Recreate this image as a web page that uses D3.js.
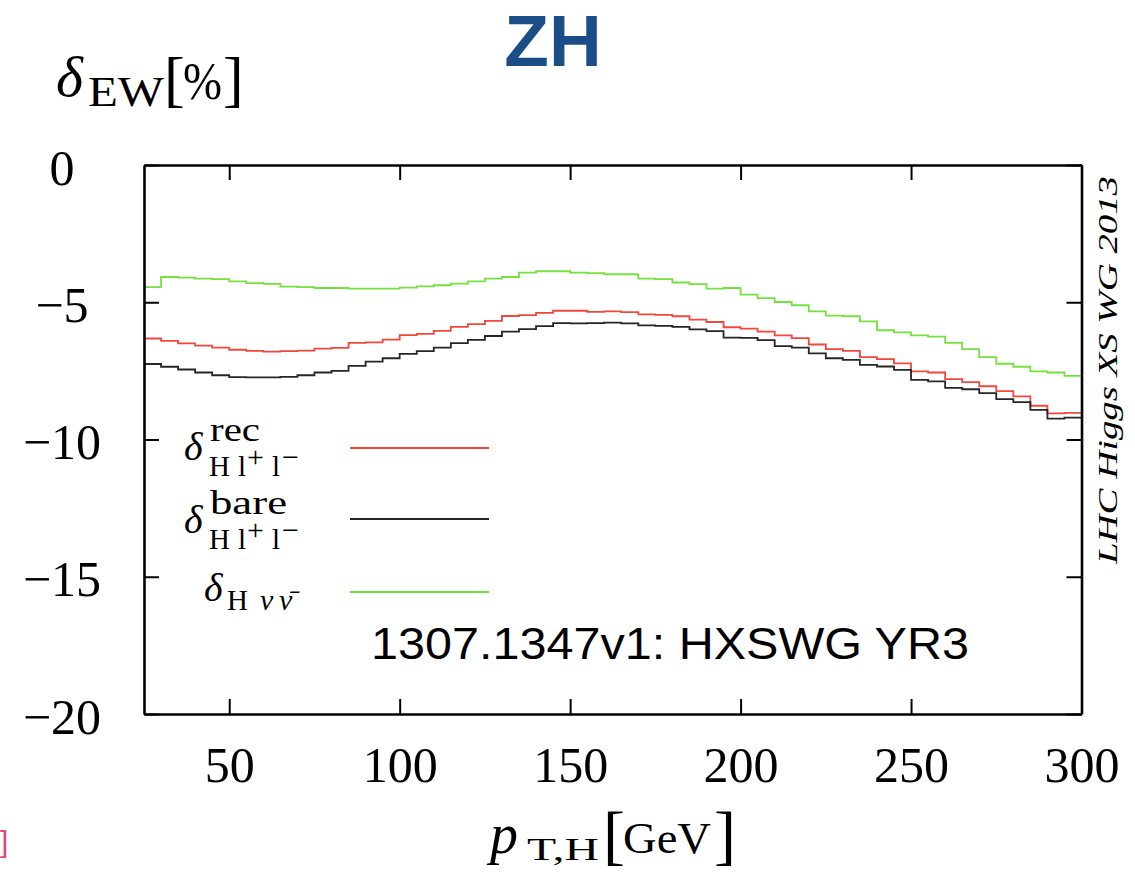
<!DOCTYPE html>
<html>
<head>
<meta charset="utf-8">
<script src="https://cdn.jsdelivr.net/npm/d3@7"></script>
<style>
  body { margin: 0; background: #fff; }
  svg { display: block; }
  text { font-family: "Liberation Serif", "DejaVu Serif", serif; fill: #000; }
</style>
</head>
<body>
<svg id="chart" width="1135" height="873"></svg>
<script>
// Lower edges of the 5 GeV p_T,H bins (GeV); last bin closes at 300
const binLow = [25, 30, 35, 40, 45, 50, 55, 60, 65, 70, 75, 80, 85, 90, 95,
  100, 105, 110, 115, 120, 125, 130, 135, 140, 145, 150, 155, 160, 165, 170,
  175, 180, 185, 190, 195, 200, 205, 210, 215, 220, 225, 230, 235, 240, 245,
  250, 255, 260, 265, 270, 275, 280, 285, 290, 295];
const binTop = 300;

// Relative EW corrections per bin (%)
const deltaRec = [-6.32, -6.41, -6.50, -6.58, -6.65, -6.73, -6.77, -6.80, -6.78, -6.76,
  -6.69, -6.66, -6.48, -6.46, -6.36, -6.20, -6.15, -6.04, -5.90, -5.80,
  -5.68, -5.50, -5.47, -5.39, -5.31, -5.31, -5.35, -5.33, -5.36, -5.44,
  -5.46, -5.51, -5.63, -5.72, -5.91, -5.96, -6.07, -6.21, -6.31, -6.54,
  -6.71, -6.77, -7.00, -7.07, -7.23, -7.52, -7.56, -7.80, -7.91, -8.06,
  -8.24, -8.43, -8.77, -9.05, -9.03];
const deltaBare = [-7.25, -7.35, -7.45, -7.56, -7.66, -7.73, -7.74, -7.74, -7.72, -7.66,
  -7.56, -7.50, -7.32, -7.16, -7.04, -6.88, -6.78, -6.65, -6.49, -6.37,
  -6.23, -6.07, -5.98, -5.87, -5.76, -5.77, -5.76, -5.74, -5.77, -5.84,
  -5.86, -5.90, -5.99, -6.05, -6.29, -6.30, -6.38, -6.60, -6.65, -6.86,
  -7.04, -7.10, -7.28, -7.34, -7.46, -7.83, -7.88, -8.12, -8.17, -8.31,
  -8.53, -8.64, -8.92, -9.24, -9.20];
const deltaNuNu = [-4.45, -4.08, -4.10, -4.14, -4.16, -4.24, -4.30, -4.33, -4.43, -4.45,
  -4.48, -4.48, -4.50, -4.50, -4.50, -4.47, -4.42, -4.38, -4.32, -4.24,
  -4.14, -4.08, -3.92, -3.87, -3.87, -3.92, -3.94, -3.98, -3.98, -4.14,
  -4.16, -4.28, -4.34, -4.50, -4.48, -4.72, -4.85, -4.99, -5.11, -5.33,
  -5.49, -5.51, -5.70, -6.02, -6.10, -6.21, -6.25, -6.48, -6.71, -7.00,
  -7.24, -7.35, -7.52, -7.56, -7.68];

const xTicks = [50, 100, 150, 200, 250, 300];
const yTicks = [0, -5, -10, -15, -20];

const svg = d3.select("#chart");
const x = d3.scaleLinear().domain([25, 300]).range([144, 1081.5]);
const y = d3.scaleLinear().domain([-20, 0]).range([714, 165]);

const colRec = "#f2473b", colBare = "#262626", colNu = "#74e23e";

// Histogram step curves
const stepLine = d3.line()
  .x(d => x(d[0]))
  .y(d => y(d[1]))
  .curve(d3.curveStepAfter);

[[deltaRec, colRec], [deltaBare, colBare], [deltaNuNu, colNu]].forEach(([vals, col]) => {
  const pts = binLow.map((b, i) => [b, vals[i]]);
  pts.push([binTop, vals[vals.length - 1]]);
  svg.append("path")
    .attr("d", stepLine(pts))
    .attr("fill", "none")
    .attr("stroke", col)
    .attr("stroke-width", 1.8);
});

// Frame with inward ticks on all four sides
function styleAxis(g) {
  g.attr("font-family", null).attr("font-size", null);
  g.select(".domain").attr("stroke-width", 2.6).attr("stroke", "#000");
  g.selectAll(".tick line").attr("stroke-width", 2).attr("stroke", "#000");
}

const gBottom = svg.append("g")
  .attr("transform", `translate(0,${y(-20)})`)
  .call(d3.axisBottom(x).tickValues(xTicks).tickSizeInner(-15).tickSizeOuter(0).tickPadding(32))
  .call(styleAxis);
gBottom.selectAll("text").attr("font-size", 50);

svg.append("g")
  .attr("transform", `translate(0,${y(0)})`)
  .call(d3.axisTop(x).tickValues(xTicks).tickSizeInner(-15).tickSizeOuter(0).tickFormat(""))
  .call(styleAxis);

const gLeft = svg.append("g")
  .attr("transform", `translate(${x(25)},0)`)
  .call(d3.axisLeft(y).tickValues(yTicks).tickSizeInner(-15).tickSizeOuter(0))
  .call(styleAxis);
gLeft.selectAll("text")
  .attr("font-size", 50)
  .attr("text-anchor", "middle")
  .attr("x", 62 - x(25))
  .attr("dy", "0.38em");

svg.append("g")
  .attr("transform", `translate(${x(300)},0)`)
  .call(d3.axisRight(y).tickValues(yTicks).tickSizeInner(-15).tickSizeOuter(0).tickFormat(""))
  .call(styleAxis);

// Title
svg.append("text")
  .attr("x", 553).attr("y", 66)
  .attr("text-anchor", "middle")
  .style("font-family", "'Liberation Sans', Arial, sans-serif")
  .style("font-weight", "bold")
  .style("font-size", "73px")
  .style("fill", "#1b4e86")
  .text("ZH");

// Y axis title: delta_EW [%]
const yt = svg.append("g");
yt.append("text").attr("x", 56).attr("y", 96).style("font-style", "italic").style("font-size", "58px").text("δ");
yt.append("text").attr("x", 88).attr("y", 106).style("font-size", "42px")
  .attr("textLength", 76).attr("lengthAdjust", "spacingAndGlyphs").text("EW");
yt.append("text").attr("x", 164).attr("y", 100).style("font-size", "62px").text("[");
yt.append("text").attr("x", 183).attr("y", 99).style("font-size", "52px")
  .attr("textLength", 39).attr("lengthAdjust", "spacingAndGlyphs").text("%");
yt.append("text").attr("x", 223).attr("y", 100).style("font-size", "62px").text("]");

// X axis title: p_T,H [GeV]
const xt = svg.append("g");
xt.append("text").attr("x", 490).attr("y", 853).style("font-style", "italic").style("font-size", "56px").text("p");
xt.append("text").attr("x", 527).attr("y", 860).style("font-size", "32px")
  .attr("textLength", 72).attr("lengthAdjust", "spacingAndGlyphs").text("T,H");
xt.append("text").attr("x", 603).attr("y", 857).style("font-size", "66px").text("[");
xt.append("text").attr("x", 623).attr("y", 853).style("font-size", "44px")
  .attr("textLength", 88).attr("lengthAdjust", "spacingAndGlyphs").text("GeV");
xt.append("text").attr("x", 714).attr("y", 857).style("font-size", "66px").text("]");

// Legend
const legend = [
  { sup: "rec", supLen: 50, color: colRec, base: 460, lineY: 448 },
  { sup: "bare", supLen: 77, color: colBare, base: 533, lineY: 519 }
];
const lg = svg.append("g");
legend.forEach(e => {
  lg.append("text").attr("x", 184).attr("y", e.base).style("font-style", "italic").style("font-size", "40px").text("δ");
  lg.append("text").attr("x", 210).attr("y", e.base - 19).style("font-size", "34px")
    .attr("textLength", e.supLen).attr("lengthAdjust", "spacingAndGlyphs").text(e.sup);
  const sb = e.base + 16;
  lg.append("text").attr("x", 209).attr("y", sb).style("font-size", "29px").text("H");
  lg.append("text").attr("x", 238).attr("y", sb).style("font-size", "29px").text("l");
  lg.append("text").attr("x", 247).attr("y", sb - 9).style("font-size", "30px").text("+");
  lg.append("text").attr("x", 272).attr("y", sb).style("font-size", "29px").text("l");
  lg.append("text").attr("x", 282).attr("y", sb - 9).style("font-size", "30px").text("−");
  lg.append("line").attr("x1", 350).attr("x2", 489).attr("y1", e.lineY).attr("y2", e.lineY)
    .attr("stroke", e.color).attr("stroke-width", 1.8);
});
lg.append("text").attr("x", 204).attr("y", 601).style("font-style", "italic").style("font-size", "40px").text("δ");
lg.append("text").attr("x", 227).attr("y", 610).style("font-size", "29px").text("H");
lg.append("text").attr("x", 260).attr("y", 610).style("font-style", "italic").style("font-size", "30px").text("ν");
lg.append("text").attr("x", 279).attr("y", 610).style("font-style", "italic").style("font-size", "30px").text("ν̄");
lg.append("line").attr("x1", 350).attr("x2", 489).attr("y1", 592).attr("y2", 592)
  .attr("stroke", colNu).attr("stroke-width", 1.8);

// Source note inside the frame
svg.append("text")
  .attr("x", 371).attr("y", 659)
  .style("font-family", "'Liberation Sans', Arial, sans-serif")
  .style("font-size", "45px")
  .attr("textLength", 598).attr("lengthAdjust", "spacingAndGlyphs")
  .text("1307.1347v1: HXSWG YR3");

// Vertical group label on the right
svg.append("text")
  .attr("transform", "translate(1117,370) rotate(-90)")
  .attr("text-anchor", "middle")
  .style("font-style", "italic")
  .style("font-size", "28px")
  .attr("textLength", 388).attr("lengthAdjust", "spacingAndGlyphs")
  .text("LHC Higgs XS WG 2013");

// Stray bracket at the lower-left edge
svg.append("text")
  .attr("x", 0).attr("y", 852)
  .style("font-family", "'Liberation Sans', Arial, sans-serif")
  .style("font-size", "30px")
  .style("fill", "#e2467f")
  .text("]");
</script>
</body>
</html>
